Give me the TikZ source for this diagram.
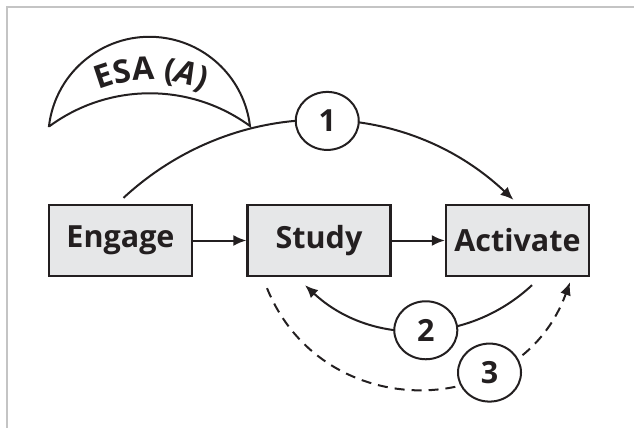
\documentclass[tikz,border=0pt]{standalone}
\usepackage{fontspec}
\setmainfont{Open Sans}
\usetikzlibrary{arrows.meta,shapes.geometric,decorations.text}
\definecolor{ink}{HTML}{231F20}
\definecolor{boxfill}{HTML}{E6E7E8}
\definecolor{framegray}{HTML}{C4C4C4}
\newcommand{\capfont}{\fontsize{30.5}{33}\selectfont\bfseries}
\newcommand{\arcfont}{\fontsize{32}{35}\selectfont\bfseries}
\begin{document}
\begin{tikzpicture}[x=1pt,y=1pt,
  font=\capfont,
  stage/.style={draw=ink, fill=boxfill, line width=2.3pt, minimum width=143pt,
    minimum height=71pt, inner sep=0pt, text=ink},
  numtag/.style={ellipse, draw=ink, fill=white, solid, line width=2pt, minimum width=63pt,
    minimum height=58pt, inner sep=0pt, text=ink},
  flow/.style={draw=ink, line width=2pt, -{Latex[length=13pt,width=11pt]}},
  backflow/.style={flow, dash pattern=on 10pt off 7pt}]
\useasboundingbox (0,0) rectangle (634,-428);
% page frame
\draw[framegray, line width=2.2pt] (634,-7) -- (7,-7) -- (7,-428);

% the three stages
\node[stage] (engage)   at (120.5,-240.5) {Engage};
\node[stage] (study)    at (319,-240.5)   {Study};
\node[stage] (activate) at (517.5,-240.5) {Activate};

\draw[flow] (engage) -- (study);
\draw[flow] (study) -- (activate);

% sequence 1: Engage straight to Activate
\draw[flow] ([xshift=3pt,yshift=6pt]engage.north)
  to[bend left=43] node[numtag, pos=0.52] (n1) {1}
  ([xshift=-4pt,yshift=4pt]activate.north);

% sequence 2: Activate back to Study
\draw[flow] ([xshift=14.5pt,yshift=-8pt]activate.south)
  to[bend left=43] node[numtag, pos=0.47] (n2) {2}
  ([xshift=-14pt,yshift=-8pt]study.south);

% sequence 3: Study on to Activate again
\draw[backflow] ([xshift=-52pt,yshift=-11pt]study.south)
  to[bend right=69, looseness=1.25] node[numtag, pos=0.69] (n3) {3}
  ([xshift=52.5pt,yshift=-5pt]activate.south);

% ESA (A) crescent with curved caption
\draw[ink, line width=2pt, line join=miter]
  (49,-126) arc[start angle=173.2, end angle=6.8, radius=101.2]
  arc[start angle=53.8, end angle=126.2, radius=169.5] -- cycle;
\path[decorate, decoration={text along path, text align=center,
    text color=ink,
    text={|\arcfont|ESA (|\arcfont\itshape|A|\arcfont\upshape|)}}]
  (151,-220) ++(140:140) arc[start angle=140, end angle=40, radius=140];
\end{tikzpicture}
\end{document}
